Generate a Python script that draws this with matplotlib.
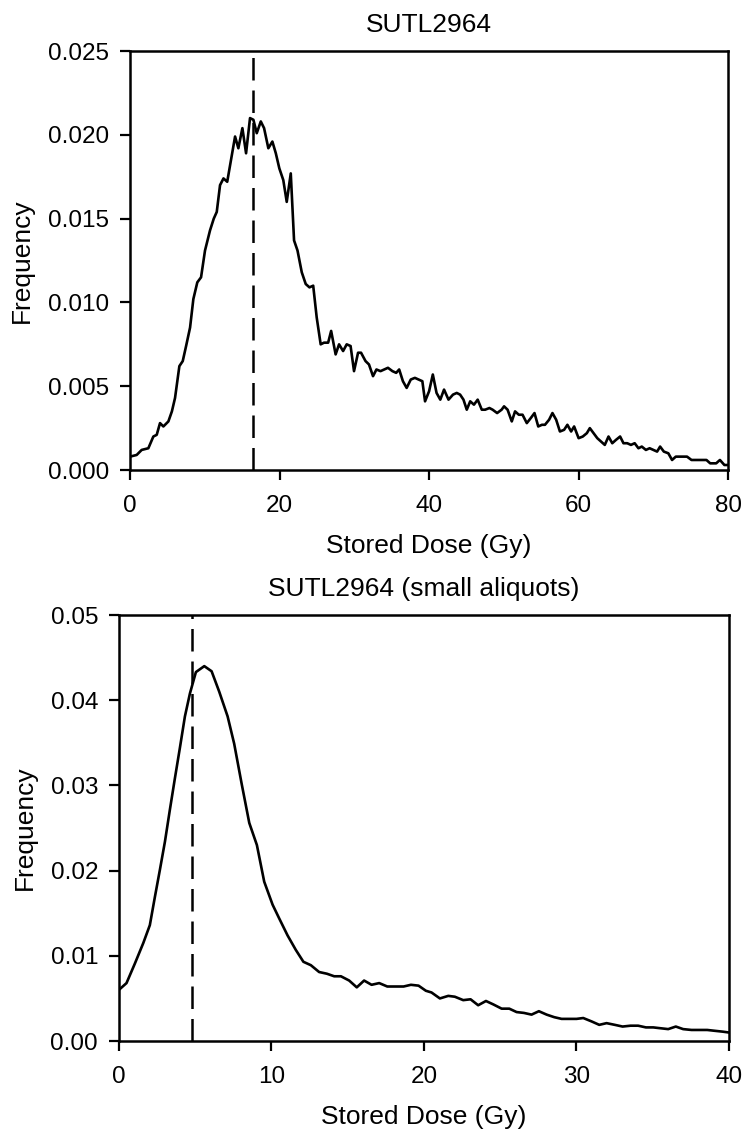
import numpy as np
import matplotlib
matplotlib.use("Agg")
import matplotlib.pyplot as plt

plt.rcParams['font.family'] = ['Liberation Sans', 'DejaVu Sans']

# top panel: SUTL2964
dose_a = [0, 0.89, 1.56, 2.45, 3.12, 3.57, 4.01, 4.46, 5.13, 5.6, 6.02, 6.6, 7.05, 7.5,
          8.03, 8.47, 9.0, 9.5, 10.03, 10.7, 11.2, 11.6, 12.04, 12.5, 13.0, 13.5, 14.05,
          14.49, 15.03, 15.52, 16.05, 16.5, 16.95, 17.49, 17.93, 18.5, 19.04, 19.5, 19.97,
          20.5, 20.96, 21.5, 21.94, 22.4, 22.97, 23.5, 24.0, 24.5, 24.97, 25.5, 25.95,
          26.5, 26.9, 27.5, 27.96, 28.5, 28.98, 29.5, 29.96, 30.5, 30.9, 31.5, 31.96,
          32.5, 32.96, 33.5, 34.0, 34.5, 35.1, 35.6, 36.0, 36.5, 37.0, 37.55, 38.1, 38.6,
          39.1, 39.46, 40.0, 40.5, 41.0, 41.5, 42.0, 42.6, 43.2, 43.7, 44.15, 44.6, 45.04,
          45.5, 46.0, 46.5, 47.05, 47.5, 48.07, 48.5, 49.1, 49.7, 50.03, 50.5, 51.06, 51.5,
          52.0, 52.5, 53.07, 53.6, 54.1, 54.6, 55.1, 55.5, 56.05, 56.5, 57.0, 57.5, 58.06,
          58.5, 59.0, 59.4, 60.0, 60.56, 61.1, 61.5, 62.0, 62.5, 63.0, 63.5, 64.0, 64.5,
          65.0, 65.55, 66.0, 66.5, 67.0, 67.5, 68.0, 68.45, 69.0, 69.5, 70.0, 70.5, 70.9,
          71.4, 72.0, 72.5, 73.0, 73.6, 74.0, 74.5, 75.1, 75.6, 76.5, 77.1, 77.6, 78.4,
          78.9, 79.5, 80.0]
freq_a = [0.0008, 0.0009, 0.0012, 0.0013, 0.0020, 0.0021, 0.0028, 0.0026, 0.0029, 0.0035,
          0.0043, 0.0062, 0.0065, 0.0074, 0.0085, 0.0102, 0.0112, 0.0115, 0.0131, 0.0143,
          0.0150, 0.0154, 0.0170, 0.0174, 0.0172, 0.0185, 0.0199, 0.0192, 0.0204, 0.0189,
          0.0210, 0.0209, 0.0201, 0.0208, 0.0204, 0.0192, 0.0196, 0.0189, 0.0180, 0.0173,
          0.0160, 0.0177, 0.0137, 0.0131, 0.0118, 0.0111, 0.0109, 0.0110, 0.0091, 0.0075,
          0.0076, 0.0076, 0.0083, 0.0069, 0.0075, 0.0071, 0.0075, 0.0074, 0.0059, 0.0070,
          0.0070, 0.0065, 0.0063, 0.0056, 0.0060, 0.0059, 0.0060, 0.0061, 0.0059, 0.0058,
          0.0060, 0.0053, 0.0049, 0.0054, 0.0055, 0.0054, 0.0053, 0.0041, 0.0047, 0.0057,
          0.0046, 0.0042, 0.0048, 0.0042, 0.0045, 0.0046, 0.0045, 0.0042, 0.0036, 0.0041,
          0.0039, 0.0042, 0.0036, 0.0036, 0.0037, 0.0036, 0.0034, 0.0036, 0.0038, 0.0036,
          0.0029, 0.0035, 0.0033, 0.0033, 0.0028, 0.0031, 0.0034, 0.0026, 0.0027, 0.0027,
          0.0030, 0.0034, 0.0030, 0.0023, 0.0024, 0.0027, 0.0023, 0.0026, 0.0019, 0.0020,
          0.0022, 0.0025, 0.0022, 0.0019, 0.0017, 0.0015, 0.0020, 0.0016, 0.0018, 0.0020,
          0.0016, 0.0016, 0.0015, 0.0016, 0.0013, 0.0014, 0.0012, 0.0013, 0.0012, 0.0011,
          0.0014, 0.0011, 0.0010, 0.0006, 0.0008, 0.0008, 0.0008, 0.0008, 0.0006, 0.0006,
          0.0006, 0.0006, 0.0004, 0.0004, 0.0006, 0.0003, 0.0003]
median_a = 16.5

# bottom panel: SUTL2964 (small aliquots)
dose_b = [0, 0.5, 1.05, 1.6, 2.03, 2.36, 2.69, 3.02, 3.34, 3.67, 4.0, 4.33, 4.66, 5.05,
          5.6, 6.08, 6.58, 7.13, 7.56, 8.05, 8.55, 9.05, 9.53, 10.08, 10.51, 11.06, 11.6,
          12.1, 12.59, 13.13, 13.64, 14.12, 14.56, 15.1, 15.6, 16.08, 16.57, 17.07, 17.6,
          18.16, 18.67, 19.15, 19.65, 20.13, 20.5, 21.05, 21.6, 22.03, 22.58, 23.06, 23.56,
          24.07, 24.55, 25.1, 25.6, 26.08, 26.56, 27.06, 27.54, 28.05, 28.55, 29.03, 29.53,
          30.01, 30.45, 31.0, 31.5, 31.98, 32.52, 33.03, 33.55, 34.05, 34.56, 35.04, 35.52,
          36.02, 36.52, 37.0, 37.55, 38.1, 38.58, 39.08, 39.6, 40.0]
freq_b = [0.0060, 0.0068, 0.0091, 0.0115, 0.0136, 0.0169, 0.0201, 0.0234, 0.0271, 0.0308,
          0.0344, 0.0381, 0.0408, 0.0433, 0.0440, 0.0434, 0.0410, 0.0381, 0.0349, 0.0302,
          0.0256, 0.0230, 0.0187, 0.0160, 0.0144, 0.0124, 0.0107, 0.0093, 0.0089, 0.0081,
          0.0079, 0.0076, 0.0076, 0.0071, 0.0063, 0.0071, 0.0066, 0.0068, 0.0064, 0.0064,
          0.0064, 0.0066, 0.0065, 0.0059, 0.0057, 0.0050, 0.0053, 0.0052, 0.0048, 0.0049,
          0.0042, 0.0047, 0.0043, 0.0038, 0.0038, 0.0034, 0.0033, 0.0031, 0.0035, 0.0031,
          0.0028, 0.0026, 0.0026, 0.0026, 0.0027, 0.0023, 0.0019, 0.0021, 0.0019, 0.0017,
          0.0018, 0.0018, 0.0016, 0.0016, 0.0015, 0.0014, 0.0017, 0.0014, 0.0013, 0.0013,
          0.0013, 0.0012, 0.0011, 0.0010]
median_b = 4.8

fig = plt.figure(figsize=(7.43, 11.37), dpi=100)
ax1 = fig.add_axes([0.175, 0.5866, 0.805, 0.3685])
ax2 = fig.add_axes([0.160, 0.0844, 0.821, 0.3747])

panels = [
    (ax1, dose_a, freq_a, median_a, "SUTL2964", 80, 0.025, np.arange(0, 81, 20),
     np.arange(0, 0.0251, 0.005), "%.3f"),
    (ax2, dose_b, freq_b, median_b, "SUTL2964 (small aliquots)", 40, 0.05,
     np.arange(0, 41, 10), np.arange(0, 0.0501, 0.01), "%.2f"),
]

for ax, x, y, med, title, xmax, ymax, xt, yt, fmt in panels:
    ax.plot(x, y, color="black", lw=1.9)
    ax.axvline(med, color="black", lw=1.8, dashes=(9, 4))
    ax.set_xlim(0, xmax)
    ax.set_ylim(0, ymax)
    ax.set_xticks(xt)
    ax.set_yticks(yt)
    ax.set_yticklabels([fmt % v for v in yt])
    ax.set_title(title, fontsize=19, pad=14)
    ax.set_xlabel("Stored Dose (Gy)", fontsize=19, labelpad=12)
    ax.set_ylabel("Frequency", fontsize=19, labelpad=10)
    ax.tick_params(axis="y", direction="out", length=7, width=1.6, labelsize=17.5, pad=8)
    ax.tick_params(axis="x", direction="out", length=7, width=1.6, labelsize=17.5, pad=11)
    for s in ax.spines.values():
        s.set_linewidth(1.8)

fig.savefig("out.png", dpi=100)
